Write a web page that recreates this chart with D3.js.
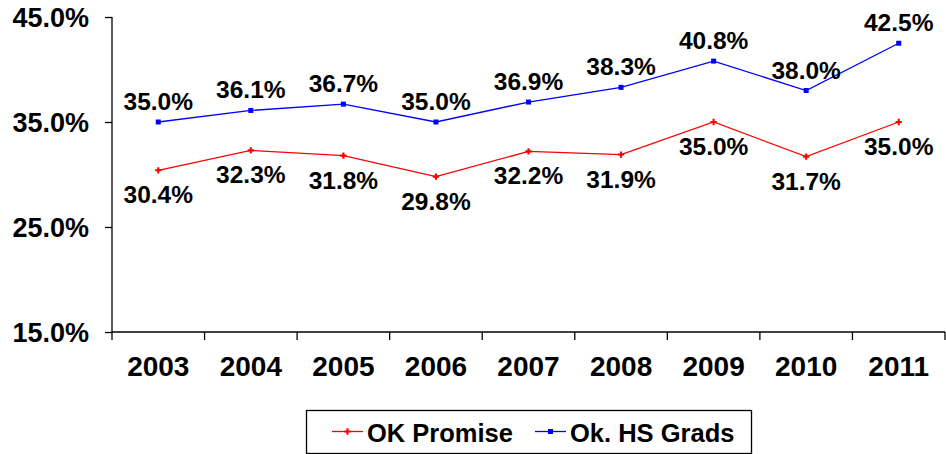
<!DOCTYPE html>
<html>
<head>
<meta charset="utf-8">
<script src="https://cdn.jsdelivr.net/npm/d3@7"></script>
<style>
html,body{margin:0;padding:0;background:#fff;}
svg{display:block;}
text{font-family:"Liberation Sans",Arial,sans-serif;font-weight:bold;fill:#000;}
</style>
</head>
<body>
<svg id="chart" width="946" height="454"></svg>
<script>
const years = ["2003","2004","2005","2006","2007","2008","2009","2010","2011"];
const okPromise = [30.4, 32.3, 31.8, 29.8, 32.2, 31.9, 35.0, 31.7, 35.0];
const hsGrads = [35.0, 36.1, 36.7, 35.0, 36.9, 38.3, 40.8, 38.0, 42.5];
const yTicks = [15, 25, 35, 45];
const seriesNames = ["OK Promise", "Ok. HS Grads"];

const svg = d3.select("#chart");
const x = d3.scaleBand().domain(years).range([112, 945]);
const y = d3.scaleLinear().domain([15, 45]).range([332, 17]);
const cx = d => x(d) + x.bandwidth() / 2;

function stretchedText(g, tx, ty, str, size, sy, anchor) {
  g.append("text")
    .attr("transform", `translate(${tx},${ty}) scale(1,${sy})`)
    .attr("text-anchor", anchor || "middle")
    .style("font-size", size + "px")
    .text(str);
}

// Y axis
const yAxis = svg.append("g").attr("transform", "translate(112,0)")
  .call(d3.axisLeft(y).tickValues(yTicks).tickSize(7).tickFormat(""));
yAxis.select(".domain").attr("d", `M0,${y(45)}V${y(15)}`).attr("stroke", "#000").attr("stroke-width", 1.3);
yAxis.selectAll(".tick line").attr("stroke", "#000").attr("stroke-width", 1.3);
yTicks.forEach(t => stretchedText(svg, 89, y(t) + 10, d3.format(".1f")(t) + "%", 27, 1.0, "end"));

// X axis
const xAxis = svg.append("g").attr("transform", `translate(0,${y(15)})`);
xAxis.append("line").attr("x1", 112).attr("x2", 945).attr("y1", 0).attr("y2", 0)
  .attr("stroke", "#000").attr("stroke-width", 1.3);
xAxis.selectAll("line.tk").data(years.concat(["end"])).enter().append("line")
  .attr("class", "tk")
  .attr("x1", (d, i) => i < years.length ? x(d) : x(years[years.length - 1]) + x.bandwidth())
  .attr("x2", (d, i) => i < years.length ? x(d) : x(years[years.length - 1]) + x.bandwidth())
  .attr("y1", 0).attr("y2", 8).attr("stroke", "#000").attr("stroke-width", 1.3);
years.forEach(yr => stretchedText(svg, cx(yr), 376, yr, 28, 1.0, "middle"));

// Lines
const line = d3.line().x((d, i) => cx(years[i])).y(d => y(d));
svg.append("path").datum(hsGrads).attr("d", line).attr("fill", "none").attr("stroke", "#0000ff").attr("stroke-width", 1.3);
svg.append("path").datum(okPromise).attr("d", line).attr("fill", "none").attr("stroke", "#ff0000").attr("stroke-width", 1.3);

// Markers
const cross = d3.symbol().type(d3.symbolCross).size(22);
svg.selectAll("path.rm").data(okPromise).enter().append("path").attr("class", "rm")
  .attr("d", cross).attr("transform", (d, i) => `translate(${cx(years[i])},${y(d)})`)
  .attr("fill", "#ff0000");
svg.selectAll("rect.bm").data(hsGrads).enter().append("rect").attr("class", "bm")
  .attr("x", (d, i) => cx(years[i]) - 2.5).attr("y", d => y(d) - 2.5)
  .attr("width", 5).attr("height", 5).attr("fill", "#0000ff");

// Data labels
hsGrads.forEach((v, i) => stretchedText(svg, cx(years[i]), y(v) - 12, d3.format(".1f")(v) + "%", 24.5, 1.0, "middle"));
okPromise.forEach((v, i) => stretchedText(svg, cx(years[i]), y(v) + 33, d3.format(".1f")(v) + "%", 24.5, 1.0, "middle"));

// Legend
const lg = svg.append("g");
lg.append("rect").attr("x", 306.5).attr("y", 410.5).attr("width", 445).attr("height", 43)
  .attr("fill", "#fff").attr("stroke", "#000").attr("stroke-width", 1.3);
const legendItems = [
  {name: seriesNames[0], color: "#ff0000", lx: 332, tx: 367, type: "cross"},
  {name: seriesNames[1], color: "#0000ff", lx: 535, tx: 570, type: "square"}
];
legendItems.forEach(it => {
  lg.append("line").attr("x1", it.lx).attr("x2", it.lx + 31).attr("y1", 431.5).attr("y2", 431.5)
    .attr("stroke", it.color).attr("stroke-width", 1.3);
  if (it.type === "cross") {
    lg.append("path").attr("d", cross).attr("transform", `translate(${it.lx + 15.5},431.5)`).attr("fill", it.color);
  } else {
    lg.append("rect").attr("x", it.lx + 13).attr("y", 429).attr("width", 5).attr("height", 5).attr("fill", it.color);
  }
  stretchedText(lg, it.tx, 442, it.name, 25.5, 1.0, "start");
});
</script>
</body>
</html>
